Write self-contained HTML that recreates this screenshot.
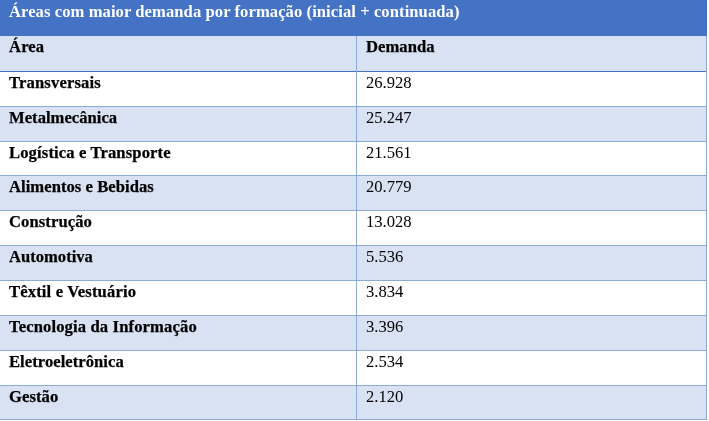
<!DOCTYPE html>
<html><head><meta charset="utf-8">
<style>
html,body{margin:0;padding:0;background:#fff;}
body{width:709px;height:421px;position:relative;overflow:hidden;font-family:"Liberation Serif",serif;font-size:16.6px;}
.hdr{position:absolute;left:0;top:0;width:707px;height:36px;background:#4472C4;}
.t{position:absolute;white-space:nowrap;line-height:1;will-change:transform;}
.w{color:#fff;font-weight:bold;letter-spacing:0.07px;}
.b{font-weight:bold;color:#000;letter-spacing:0.15px;-webkit-text-stroke:0.25px #000;}
.n{color:#000;}
.row{position:absolute;left:0;width:707px;}
.l{background:#D9E2F3;}
.hl{position:absolute;left:0;width:707px;height:1px;background:#8EAADB;}
.vl{position:absolute;top:36px;width:1px;height:384px;background:#8EAADB;}
</style></head><body>
<div class="hdr"></div>
<div class="row l" style="top:36px;height:35px"></div>
<div class="row l" style="top:107px;height:34px"></div>
<div class="row l" style="top:176px;height:34px"></div>
<div class="row l" style="top:246px;height:34px"></div>
<div class="row l" style="top:316px;height:34px"></div>
<div class="row l" style="top:386px;height:33px"></div>
<div class="hl" style="top:71px;background:#4472C4"></div>
<div class="hl" style="top:106px"></div>
<div class="hl" style="top:141px"></div>
<div class="hl" style="top:175px"></div>
<div class="hl" style="top:210px"></div>
<div class="hl" style="top:245px"></div>
<div class="hl" style="top:280px"></div>
<div class="hl" style="top:315px"></div>
<div class="hl" style="top:350px"></div>
<div class="hl" style="top:385px"></div>
<div class="hl" style="top:419px"></div>
<div class="vl" style="left:356px"></div>
<div class="vl" style="left:706px"></div>

<div class="t w" style="left:9px;top:4px">Áreas com maior demanda por formação (inicial + continuada)</div>
<div class="t b" style="left:9px;top:39px">Área</div>
<div class="t b" style="left:366px;top:39px;letter-spacing:0.06px">Demanda</div>
<div class="t b" style="left:9px;top:75px">Transversais</div>
<div class="t n" style="left:366px;top:75px">26.928</div>
<div class="t b" style="left:9px;top:110px;letter-spacing:0.03px">Metalmecânica</div>
<div class="t n" style="left:366px;top:110px">25.247</div>
<div class="t b" style="left:9px;top:145px;letter-spacing:0.13px">Logística e Transporte</div>
<div class="t n" style="left:366px;top:145px">21.561</div>
<div class="t b" style="left:9px;top:179px;letter-spacing:0.05px">Alimentos e Bebidas</div>
<div class="t n" style="left:366px;top:179px">20.779</div>
<div class="t b" style="left:9px;top:214px;letter-spacing:0.09px">Construção</div>
<div class="t n" style="left:366px;top:214px">13.028</div>
<div class="t b" style="left:9px;top:249px;letter-spacing:0.00px">Automotiva</div>
<div class="t n" style="left:366px;top:249px">5.536</div>
<div class="t b" style="left:9px;top:284px">Têxtil e Vestuário</div>
<div class="t n" style="left:366px;top:284px">3.834</div>
<div class="t b" style="left:9px;top:319px;letter-spacing:0.13px">Tecnologia da Informação</div>
<div class="t n" style="left:366px;top:319px">3.396</div>
<div class="t b" style="left:9px;top:354px;letter-spacing:0.05px">Eletroeletrônica</div>
<div class="t n" style="left:366px;top:354px">2.534</div>
<div class="t b" style="left:9px;top:389px;letter-spacing:0.08px">Gestão</div>
<div class="t n" style="left:366px;top:389px">2.120</div>
</body></html>
